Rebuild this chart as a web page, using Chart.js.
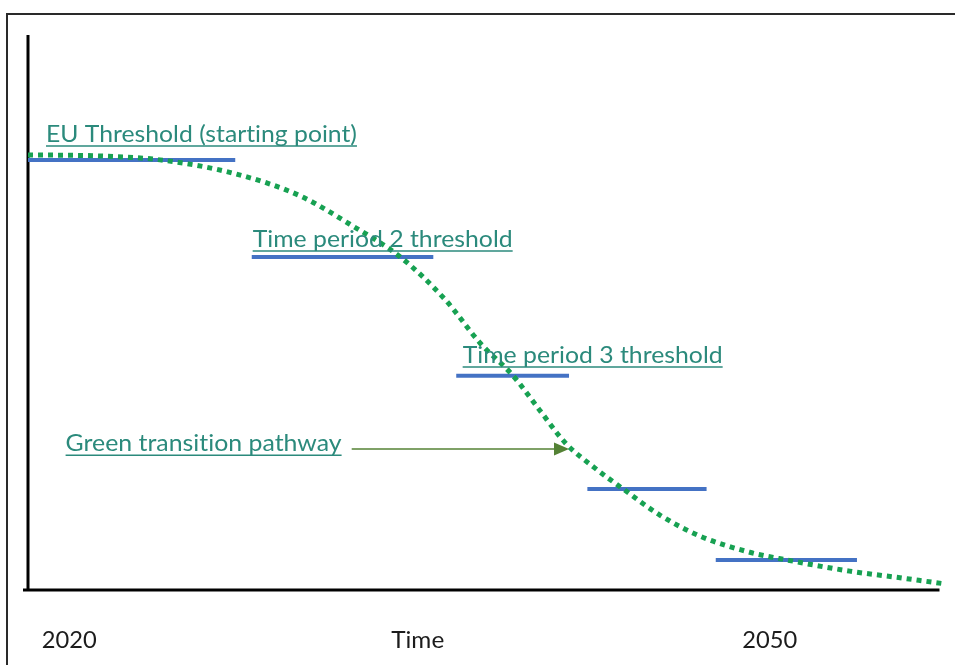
<!DOCTYPE html>
<html>
<head>
<meta charset="utf-8">
<title>Green transition pathway</title>
<script src="https://cdn.jsdelivr.net/npm/chart.js@4.4.1/dist/chart.umd.min.js"></script>
<style>
  html, body { margin: 0; padding: 0; background: #fff; }
  #wrap { width: 955px; height: 665px; }
</style>
</head>
<body>
<div id="wrap"><canvas id="pathwayChart" width="955" height="665"></canvas></div>
<script>
// Green transition pathway (x = time, 0..100; y = level, 0..100)
const curveX = [0, 7.9, 14.4, 22.6, 29.7, 35.1, 40.6, 45.5, 49.3, 52.9, 55.8, 58.6, 61.8, 64.9, 68.9, 73.3, 78.7, 82.8, 89.6, 95.1, 100];
const curveY = [78.4, 78.2, 77.5, 75.0, 71.0, 65.9, 60.0, 52.3, 44.5, 38.6, 32.4, 26.5, 22.0, 18.2, 13.5, 9.7, 6.8, 5.4, 3.4, 2.2, 1.1];

// Threshold steps
const thresholdStart = [0, 24.4, 46.7, 61.0, 75.0];
const thresholdEnd = [22.6, 44.2, 59.0, 74.0, 90.4];
const thresholdLevel = [77.5, 60.0, 38.6, 18.2, 5.4];

// Axis labels under the chart
const timeLabels = ["2020", "Time", "2050"];
const timeLabelX = [4.5, 42.5, 80.9];

const datasets = [{
  label: "Green transition pathway",
  data: curveX.map((x, i) => ({ x: x, y: curveY[i] })),
  borderColor: "#17a152",
  borderWidth: 5,
  borderDash: [5, 5],
  borderCapStyle: "butt",
  cubicInterpolationMode: "monotone",
  pointRadius: 0,
  clip: false
}];

thresholdStart.forEach((s, i) => {
  datasets.push({
    label: "Threshold " + (i + 1),
    data: [{ x: s, y: thresholdLevel[i] }, { x: thresholdEnd[i], y: thresholdLevel[i] }],
    borderColor: "#4472c4",
    borderWidth: 4,
    pointRadius: 0,
    clip: false
  });
});

// Annotations: text anchored in data units, squeezed to a width in px
const notes = [
  { text: "EU Threshold (starting point)", x: 1.96, y: 80.7, width: 311 },
  { text: "Time period 2 threshold", x: 24.5, y: 61.8, width: 260 },
  { text: "Time period 3 threshold", x: 47.4, y: 40.9, width: 260 },
  { text: "Green transition pathway", x: 4.1, y: 25.0, width: 276 }
];
const arrow = { x1: 35.3, x2: 59.0, y: 25.4 };
const family = "Lato, 'Open Sans', sans-serif";

// draw text at a given size, squeezed horizontally to the wanted width
function squeezeText(ctx, text, x, y, width, size) {
  ctx.font = size + "px " + family;
  ctx.letterSpacing = "0.01px"; // keeps Lato from using the "ti" ligature
  const w = ctx.measureText(text).width;
  ctx.save();
  ctx.translate(x, y);
  ctx.scale(width / w, 1);
  ctx.fillText(text, 0, 0);
  ctx.restore();
}

const decorPlugin = {
  id: "decor",
  beforeDatasetsDraw(chart) {
    const ctx = chart.ctx;
    const xs = chart.scales.x, ys = chart.scales.y;
    ctx.save();
    // outer frame (top + left)
    ctx.strokeStyle = "#2a2a2a";
    ctx.lineWidth = 2;
    ctx.beginPath();
    ctx.moveTo(7, 665);
    ctx.lineTo(7, 14);
    ctx.lineTo(955, 14);
    ctx.stroke();
    // axes
    ctx.strokeStyle = "#000";
    ctx.lineWidth = 3;
    ctx.beginPath();
    ctx.moveTo(xs.getPixelForValue(0), ys.getPixelForValue(100));
    ctx.lineTo(xs.getPixelForValue(0), ys.getPixelForValue(0));
    ctx.moveTo(xs.getPixelForValue(0) - 5, ys.getPixelForValue(0));
    ctx.lineTo(xs.getPixelForValue(99.4), ys.getPixelForValue(0));
    ctx.stroke();
    ctx.restore();
  },
  afterDatasetsDraw(chart) {
    const ctx = chart.ctx;
    const xs = chart.scales.x, ys = chart.scales.y;
    const area = chart.chartArea;
    ctx.save();
    // teal notes, underlined
    ctx.fillStyle = "#2b8a7c";
    ctx.strokeStyle = "#2b8a7c";
    ctx.textBaseline = "alphabetic";
    ctx.textAlign = "left";
    notes.forEach(n => {
      const px = xs.getPixelForValue(n.x);
      const py = ys.getPixelForValue(n.y);
      squeezeText(ctx, n.text, px, py, n.width, 23);
      ctx.lineWidth = 1.5;
      ctx.beginPath();
      ctx.moveTo(px, py + 4);
      ctx.lineTo(px + n.width, py + 4);
      ctx.stroke();
    });
    // arrow
    const ax1 = xs.getPixelForValue(arrow.x1);
    const ax2 = xs.getPixelForValue(arrow.x2);
    const ay = ys.getPixelForValue(arrow.y);
    ctx.strokeStyle = "#548235";
    ctx.fillStyle = "#548235";
    ctx.lineWidth = 1.5;
    ctx.beginPath();
    ctx.moveTo(ax1, ay);
    ctx.lineTo(ax2 - 12, ay);
    ctx.stroke();
    ctx.beginPath();
    ctx.moveTo(ax2, ay);
    ctx.lineTo(ax2 - 15, ay - 6.5);
    ctx.lineTo(ax2 - 15, ay + 6.5);
    ctx.closePath();
    ctx.fill();
    // time labels under the axis
    ctx.fillStyle = "#1c1c1c";
    const widths = [55, 53, 55];
    timeLabels.forEach((t, i) => {
      const cx = xs.getPixelForValue(timeLabelX[i]);
      squeezeText(ctx, t, cx - widths[i] / 2, area.bottom + 58, widths[i], 23);
    });
    ctx.restore();
  }
};

new Chart(document.getElementById("pathwayChart"), {
  type: "line",
  data: { datasets: datasets },
  options: {
    responsive: false,
    animation: false,
    layout: { padding: { left: 28, right: 10, top: 35, bottom: 75 } },
    scales: {
      x: { type: "linear", min: 0, max: 100, display: false },
      y: { type: "linear", min: 0, max: 100, display: false }
    },
    plugins: {
      legend: { display: false },
      tooltip: { enabled: false }
    }
  },
  plugins: [decorPlugin]
});
</script>
</body>
</html>
